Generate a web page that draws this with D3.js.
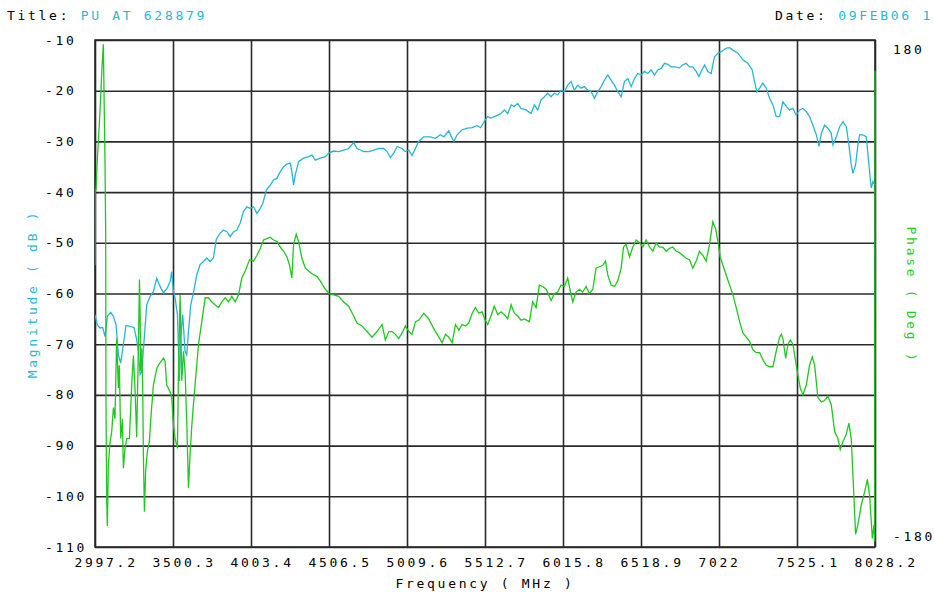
<!DOCTYPE html>
<html>
<head>
<meta charset="utf-8">
<script src="https://cdn.jsdelivr.net/npm/d3@7"></script>
<style>
  body { margin: 0; background: #fff; }
  text { font-family: "DejaVu Sans Mono", monospace; font-size: 13px; letter-spacing: 2.7px; }
</style>
</head>
<body>
<div id="chart"></div>
<script>
// Frequency grid (MHz) and tick labels as printed by the analyzer
const freqTicks = [2997.2, 3500.3, 4003.4, 4506.5, 5009.6, 5512.7, 6015.8, 6518.9, 7022, 7525.1, 8028.2];
const freqLabels = ["2997.2", "3500.3", "4003.4", "4506.5", "5009.6", "5512.7", "6015.8", "6518.9", "7022", "7525.1", "8028.2"];
const magTicks = [-10, -20, -30, -40, -50, -60, -70, -80, -90, -100, -110];
const phaseTicks = [180, -180];

// Magnitude trace: [frequency MHz, dB]
const magnitude = [
  [2997, -64.2], [3012, -66.2], [3030, -66.8], [3047, -66.7], [3062, -68.5], [3077, -64.5], [3098, -63.7],
  [3116, -64.5], [3133, -66.2], [3148, -72.1], [3163, -73.7], [3180, -70.1], [3197, -66.3], [3223, -66.5],
  [3249, -66.7], [3266, -69.1], [3277, -71.4], [3288, -76.0], [3299, -75.4], [3331, -62.2], [3352, -60.6],
  [3374, -59.6], [3395, -57.0], [3417, -58.6], [3439, -59.9], [3464, -58.9], [3482, -57.6], [3492, -55.7],
  [3503, -59.6], [3514, -60.9], [3529, -64.2], [3542, -77.3], [3550, -68.8], [3563, -64.2], [3578, -71.4],
  [3589, -72.1], [3600, -67.5], [3615, -62.2], [3632, -59.9], [3654, -56.3], [3675, -54.3], [3697, -53.7],
  [3718, -53.0], [3740, -53.7], [3761, -53.0], [3779, -49.4], [3804, -48.1], [3826, -47.5], [3848, -47.8],
  [3869, -48.8], [3891, -47.8], [3912, -47.5], [3934, -46.1], [3955, -43.8], [3977, -42.9], [3998, -43.2],
  [4020, -42.9], [4041, -44.2], [4063, -43.2], [4080, -42.2], [4102, -39.6], [4128, -38.6], [4149, -37.6],
  [4170, -37.3], [4192, -36.0], [4213, -35.0], [4235, -34.5], [4257, -34.3], [4267, -36.0], [4278, -38.6],
  [4289, -36.6], [4310, -34.0], [4343, -33.3], [4375, -33.0], [4397, -32.7], [4418, -33.7], [4450, -33.3],
  [4483, -33.0], [4506, -32.3], [4536, -31.9], [4569, -32.0], [4601, -31.7], [4633, -31.4], [4666, -30.2],
  [4687, -31.4], [4709, -31.7], [4730, -32.0], [4763, -32.0], [4795, -31.7], [4827, -31.4], [4859, -31.4],
  [4881, -32.0], [4902, -33.2], [4924, -32.3], [4946, -31.0], [4978, -31.4], [4999, -32.0], [5021, -31.7],
  [5042, -32.8], [5064, -31.4], [5085, -30.0], [5118, -29.1], [5161, -29.1], [5193, -29.4], [5225, -28.7],
  [5247, -29.1], [5279, -27.9], [5301, -29.4], [5312, -30.0], [5333, -28.7], [5365, -27.7], [5398, -27.4],
  [5430, -27.3], [5462, -26.9], [5484, -27.3], [5513, -25.8], [5530, -25.1], [5551, -25.4], [5573, -25.1],
  [5595, -24.8], [5616, -24.5], [5638, -23.8], [5659, -24.5], [5681, -22.8], [5702, -23.1], [5724, -22.5],
  [5745, -23.5], [5777, -23.8], [5810, -24.5], [5831, -22.8], [5853, -23.8], [5874, -21.8], [5896, -21.2],
  [5917, -20.5], [5939, -21.2], [5960, -20.5], [5982, -20.8], [6003, -19.9], [6025, -20.2], [6046, -18.9],
  [6068, -18.2], [6089, -19.9], [6111, -18.9], [6132, -19.5], [6154, -19.2], [6176, -19.9], [6197, -20.2],
  [6219, -21.5], [6240, -20.2], [6262, -19.2], [6283, -17.9], [6305, -16.9], [6326, -17.9], [6348, -18.9],
  [6369, -20.2], [6391, -21.2], [6412, -18.2], [6434, -17.6], [6455, -19.2], [6477, -17.6], [6498, -16.6],
  [6520, -16.9], [6541, -16.2], [6563, -16.6], [6584, -15.9], [6606, -16.9], [6627, -15.9], [6649, -15.6],
  [6670, -14.6], [6692, -14.8], [6713, -15.3], [6735, -15.3], [6767, -15.5], [6789, -14.9], [6810, -14.6],
  [6832, -15.3], [6853, -15.3], [6875, -16.2], [6892, -17.2], [6907, -16.2], [6929, -14.9], [6950, -16.2],
  [6972, -16.6], [6982, -14.9], [6993, -13.3], [7015, -12.6], [7036, -12.3], [7069, -11.6], [7090, -11.5],
  [7112, -12.0], [7144, -12.6], [7176, -13.9], [7208, -14.6], [7236, -15.9], [7251, -18.2], [7266, -20.2],
  [7284, -19.5], [7305, -18.5], [7327, -19.5], [7348, -21.5], [7370, -22.8], [7391, -25.1], [7413, -25.1],
  [7434, -22.2], [7456, -23.1], [7477, -23.8], [7499, -23.5], [7520, -24.8], [7542, -23.8], [7563, -23.5],
  [7585, -24.1], [7606, -25.1], [7628, -26.8], [7650, -28.7], [7667, -31.0], [7682, -28.4], [7703, -26.8],
  [7725, -27.4], [7746, -28.4], [7757, -30.7], [7779, -29.1], [7800, -27.1], [7822, -26.1], [7843, -27.1],
  [7860, -30.7], [7875, -34.6], [7886, -36.3], [7903, -34.6], [7918, -30.7], [7929, -28.7], [7951, -28.7],
  [7972, -29.1], [7989, -34.6], [8004, -39.2], [8015, -37.9], [8028, -38.6]
];

// Phase trace: [frequency MHz, degrees]
const phase = [
  [2997.2, 20], [2998, 73], [3004, 74], [3012, 95], [3025, 120], [3034, 140], [3042, 160], [3051, 177],
  [3062, 91], [3066, 45], [3068, -79], [3073, -148], [3077, -165], [3083, -122], [3094, -106], [3105, -98],
  [3116, -81], [3126, -89], [3137, -32], [3148, -67], [3154, -51], [3163, -103], [3174, -89], [3180, -124],
  [3191, -110], [3202, -103], [3219, -103], [3234, -65], [3245, -44], [3256, -70], [3266, -102], [3277, -39],
  [3284, 10], [3288, -13], [3292, -55], [3299, -39], [3305, -67], [3309, -113], [3316, -155], [3324, -126],
  [3335, -112], [3348, -105], [3357, -89], [3374, -65], [3396, -53], [3417, -49], [3439, -46], [3449, -48],
  [3460, -65], [3482, -70], [3492, -74], [3503, -93], [3514, -103], [3529, -110], [3535, -60], [3546, -1],
  [3557, -62], [3568, -41], [3578, -55], [3589, -91], [3600, -138], [3611, -113], [3622, -93], [3632, -79],
  [3650, -55], [3665, -36], [3686, -20], [3708, -3], [3729, -3], [3751, -6], [3772, -8], [3794, -10],
  [3815, -6], [3837, -3], [3858, -6], [3880, -2], [3901, -6], [3923, -1], [3944, 11], [3966, 16],
  [3994, 24], [4020, 23], [4041, 27], [4063, 32], [4084, 38], [4106, 39], [4127, 40], [4149, 38],
  [4171, 37], [4192, 33], [4214, 30], [4235, 26], [4252, 20], [4267, 11], [4278, 35], [4295, 42],
  [4310, 37], [4332, 25], [4354, 18], [4375, 16], [4397, 14], [4429, 12], [4450, 9], [4483, 3],
  [4506, 0], [4536, -1], [4569, -2], [4601, -6], [4633, -9], [4666, -16], [4687, -21], [4719, -23],
  [4752, -27], [4784, -31], [4816, -27], [4849, -22], [4870, -33], [4892, -27], [4913, -27], [4935, -29],
  [4956, -32], [4978, -28], [4999, -23], [5021, -27], [5042, -29], [5064, -20], [5085, -19], [5118, -14],
  [5150, -18], [5182, -25], [5215, -31], [5236, -35], [5258, -29], [5279, -31], [5301, -35], [5322, -22],
  [5344, -26], [5365, -22], [5387, -23], [5408, -21], [5430, -14], [5451, -10], [5473, -14], [5494, -13],
  [5513, -19], [5530, -22], [5551, -16], [5573, -9], [5595, -15], [5616, -13], [5638, -15], [5659, -18],
  [5681, -8], [5702, -14], [5724, -16], [5745, -19], [5767, -18], [5799, -20], [5820, -6], [5842, -10],
  [5863, 6], [5885, 5], [5907, 3], [5939, -5], [5960, 0], [5982, 1], [6003, 6], [6025, 5],
  [6046, 11], [6068, -1], [6079, -6], [6100, 1], [6122, 3], [6143, 1], [6165, 5], [6186, 0],
  [6208, 3], [6229, 18], [6251, 19], [6272, 20], [6290, 23], [6305, 13], [6326, 6], [6348, 5],
  [6369, 9], [6391, 18], [6406, 33], [6423, 35], [6445, 26], [6466, 33], [6488, 38], [6509, 36],
  [6531, 33], [6552, 38], [6574, 33], [6595, 30], [6617, 36], [6638, 33], [6660, 33], [6681, 30],
  [6703, 32], [6724, 33], [6746, 30], [6767, 29], [6789, 27], [6810, 25], [6832, 24], [6853, 18],
  [6875, 23], [6896, 30], [6918, 27], [6939, 23], [6961, 35], [6982, 51], [7000, 46], [7015, 37],
  [7030, 26], [7047, 20], [7069, 13], [7090, 6], [7112, -1], [7133, -10], [7155, -20], [7176, -28],
  [7198, -31], [7219, -34], [7241, -40], [7262, -42], [7284, -42], [7305, -47], [7327, -51], [7348, -52],
  [7370, -52], [7391, -41], [7413, -31], [7424, -29], [7434, -32], [7452, -46], [7467, -36], [7482, -33],
  [7499, -36], [7516, -48], [7531, -58], [7546, -67], [7563, -72], [7585, -65], [7606, -51], [7624, -45],
  [7639, -51], [7660, -74], [7682, -77], [7703, -76], [7725, -73], [7746, -79], [7768, -98], [7789, -103],
  [7804, -111], [7822, -105], [7843, -100], [7860, -92], [7875, -103], [7886, -129], [7903, -171], [7918, -164],
  [7940, -150], [7961, -141], [7979, -132], [7994, -144], [8011, -174], [8022, -164], [8026, -176], [8028.2, 158]
];

const W = 934, H = 592;
const plot = { left: 95, right: 875, top: 40, bottom: 547 };
const pw = plot.right - plot.left;
const ph = plot.bottom - plot.top;

const cyan = "#26b6d2";
const cyanText = "#1fb8d8";
const green = "#1ec81e";
const greenText = "#22cc22";
const gridColor = "#2a2a2a";

const svg = d3.select("#chart")
  .append("svg")
  .attr("width", W)
  .attr("height", H)
  .style("display", "block")
  .style("background", "#fff");

const x = d3.scaleLinear().domain([2997.2, 8028.2]).range([plot.left, plot.right]);
const yMag = d3.scaleLinear().domain([-110, -10]).range([plot.bottom, plot.top]);
const yPhase = d3.scaleLinear().domain([-180, 180]).range([plot.bottom, plot.top]);

// Header
const title = svg.append("text").attr("x", 7).attr("y", 20).attr("xml:space", "preserve");
title.append("tspan").attr("fill", "#000").text("Title: ");
title.append("tspan").attr("fill", cyanText).text("PU AT 628879");

const date = svg.append("text").attr("x", 775).attr("y", 20).attr("xml:space", "preserve");
date.append("tspan").attr("fill", "#000").text("Date: ");
date.append("tspan").attr("fill", cyanText).text("09FEB06 1");

// Vertical grid + frequency labels
const xAxisG = svg.append("g")
  .attr("transform", `translate(0,${plot.bottom})`)
  .call(d3.axisBottom(x)
    .tickValues(freqTicks)
    .tickSize(-ph)
    .tickFormat((d, i) => freqLabels[i]));
xAxisG.select(".domain").remove();
xAxisG.selectAll("line").attr("stroke", gridColor).attr("stroke-width", 1.6);
xAxisG.selectAll("text")
  .attr("fill", "#000")
  .attr("x", -21)
  .attr("y", 20)
  .attr("dy", null)
  .attr("text-anchor", "start");
xAxisG.attr("font-family", null).attr("font-size", null);

// Horizontal grid + magnitude labels
const yAxisG = svg.append("g")
  .attr("transform", `translate(${plot.left},0)`)
  .call(d3.axisLeft(yMag)
    .tickValues(magTicks)
    .tickSize(-pw)
    .tickFormat(d => d));
yAxisG.select(".domain").remove();
yAxisG.selectAll("line").attr("stroke", gridColor).attr("stroke-width", 1.6);
yAxisG.selectAll("text")
  .attr("fill", "#000")
  .attr("x", -50)
  .attr("dy", null)
  .attr("y", 4)
  .attr("text-anchor", "start");
yAxisG.attr("font-family", null).attr("font-size", null);

// Frame
svg.append("rect")
  .attr("x", plot.left).attr("y", plot.top)
  .attr("width", pw).attr("height", ph)
  .attr("fill", "none")
  .attr("stroke", gridColor)
  .attr("stroke-width", 1.6);

// Phase labels on the right
svg.selectAll(".phase-label")
  .data(phaseTicks)
  .enter().append("text")
  .attr("class", "phase-label")
  .attr("x", 893)
  .attr("y", d => yPhase(d) + (d > 0 ? 13.5 : -6))
  .attr("fill", "#000")
  .text(d => d);

// Axis titles
svg.append("text")
  .attr("x", (plot.left + plot.right) / 2)
  .attr("y", 588)
  .attr("text-anchor", "middle")
  .attr("fill", "#000")
  .text("Frequency ( MHz )");

svg.append("text")
  .attr("transform", "translate(36.5,294) rotate(-90)")
  .attr("text-anchor", "middle")
  .attr("fill", cyanText)
  .text("Magnitude ( dB )");

svg.append("text")
  .attr("transform", "translate(907,295) rotate(90)")
  .attr("text-anchor", "middle")
  .attr("fill", greenText)
  .text("Phase ( Deg )");

// Traces
svg.append("defs").append("clipPath").attr("id", "plot-clip")
  .append("rect")
  .attr("x", plot.left).attr("y", plot.top - 1)
  .attr("width", pw + 2).attr("height", ph + 2);

const traces = svg.append("g").attr("clip-path", "url(#plot-clip)");

traces.append("path")
  .datum(magnitude)
  .attr("fill", "none")
  .attr("stroke", cyan)
  .attr("stroke-width", 1.3)
  .attr("d", d3.line().x(d => x(d[0])).y(d => yMag(d[1])));

traces.append("path")
  .datum(phase)
  .attr("fill", "none")
  .attr("stroke", green)
  .attr("stroke-width", 1.3)
  .attr("d", d3.line().x(d => x(d[0])).y(d => yPhase(d[1])));
</script>
</body>
</html>
